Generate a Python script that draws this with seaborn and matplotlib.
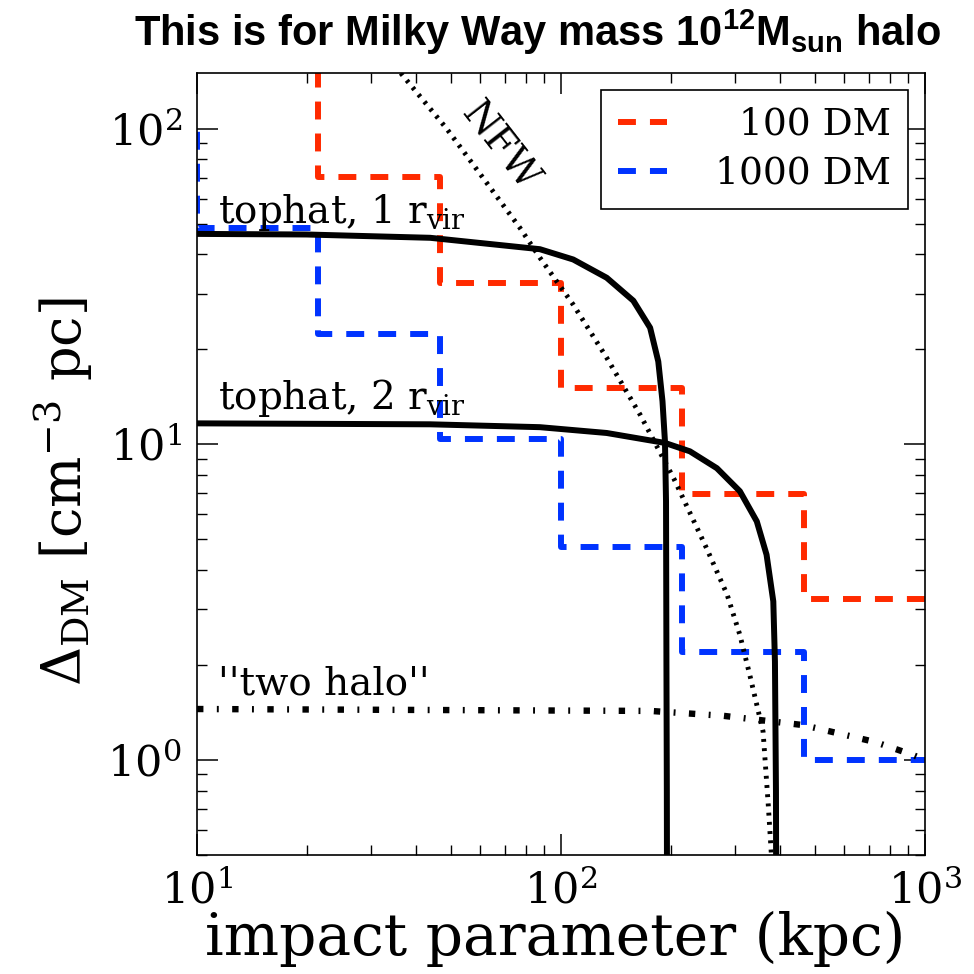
import matplotlib
matplotlib.use("Agg")
import matplotlib.pyplot as plt
import matplotlib.ticker as mticker
import seaborn as sns
import pandas as pd

# ---------------- data ----------------
step_edges = [4.64, 10, 21.5, 46.4, 100, 215, 464, 1000]
dm100_vals = [170, 170, 70.5, 32.4, 15.1, 6.95, 3.24, 3.24]
dm1000_vals = [103, 48.5, 22.3, 10.4, 4.74, 2.20, 1.0, 1.0]

tophat1_x = [10, 20, 43.7, 87.5, 108, 133.5, 158, 175.7, 185, 190, 193, 194.3, 194.8, 195.3, 195.5]
tophat1_y = [46.4, 46.2, 45.1, 41.5, 38.5, 33.7, 28.5, 23.4, 18.3, 13.7, 10.2, 6.6, 2.05, 0.8, 0.4]

tophat2_x = [10, 43.7, 87.5, 133.5, 193, 226, 268, 310, 345, 367, 383, 387, 389.5, 390]
tophat2_y = [11.65, 11.57, 11.33, 10.86, 10.1, 9.5, 8.4, 7.1, 5.7, 4.47, 3.18, 2.05, 0.8, 0.4]

nfw_x = [35, 36.8, 48.5, 77.1, 87.5, 108, 133.5, 165, 204, 251, 286, 310, 330, 359, 371, 378, 380]
nfw_y = [158, 147, 100, 48.5, 39.0, 27.7, 18.8, 12.4, 7.8, 4.69, 3.34, 2.49, 1.86, 1.23, 0.72, 0.51, 0.45]

twohalo_x = [10, 176, 279, 462, 729, 920, 1000]
twohalo_y = [1.45, 1.43, 1.38, 1.29, 1.14, 1.04, 1.0]

legend_labels = ["\u2007100 DM", "1000 DM"]
x_label = "impact parameter (kpc)"
y_label = r"$\Delta_{\rm DM}$ [cm$^{-3}$ pc]"
title = r"This is for Milky Way mass 10$^{12}$M$_{sun}$ halo"

RED = "#ff2a00"
BLUE = "#0033ff"

# ---------------- style ----------------
sns.set_style("ticks")
plt.rcParams["font.family"] = ["DejaVu Serif", "DejaVu Sans"]
plt.rcParams["mathtext.fontset"] = "dejavuserif"
plt.rcParams["mathtext.default"] = "regular"
for k in ["text.color", "axes.labelcolor", "xtick.color", "ytick.color", "axes.edgecolor"]:
    plt.rcParams[k] = "black"
plt.rcParams["axes.linewidth"] = 1.2
plt.rcParams["lines.dash_capstyle"] = "butt"

fig = plt.figure(figsize=(9.74, 9.74), dpi=100)
ax = fig.add_axes([0.2023, 0.1222, 0.7474, 0.8028])

steps = pd.DataFrame({"x": step_edges, "dm100": dm100_vals, "dm1000": dm1000_vals})

sns.lineplot(data=steps, x="x", y="dm100", ax=ax, color=RED, lw=4.3,
             drawstyle="steps-post", estimator=None, sort=False,
             label=legend_labels[0], legend=False)
ax.lines[-1].set_dashes((3.0, 2.35))
sns.lineplot(data=steps, x="x", y="dm1000", ax=ax, color=BLUE, lw=4.3,
             drawstyle="steps-post", estimator=None, sort=False,
             label=legend_labels[1], legend=False)
ax.lines[-1].set_dashes((3.0, 2.35))
h_red, h_blue = ax.lines[0], ax.lines[1]

sns.lineplot(x=tophat1_x, y=tophat1_y, ax=ax, color="black", lw=4.3,
             estimator=None, sort=False, legend=False)
sns.lineplot(x=tophat2_x, y=tophat2_y, ax=ax, color="black", lw=4.3,
             estimator=None, sort=False, legend=False)
sns.lineplot(x=nfw_x, y=nfw_y, ax=ax, color="black", lw=3.5,
             estimator=None, sort=False, legend=False)
ax.lines[-1].set_dashes((0.6, 1.3))
sns.lineplot(x=twohalo_x, y=twohalo_y, ax=ax, color="black", lw=4.6,
             estimator=None, sort=False, legend=False)
ax.lines[-1].set_dashes((1.0, 2.1, 0.3, 2.1))

ax.set_xscale("log")
ax.set_yscale("log")
ax.set_xlim(10, 1000)
ax.set_ylim(0.5, 150)

ax.tick_params(which="both", direction="in", top=True, right=True)
ax.tick_params(which="major", length=15, width=1.1, labelsize=31, pad=11)
ax.tick_params(which="minor", length=7.5, width=1.0)
ax.xaxis.set_minor_formatter(mticker.NullFormatter())
ax.yaxis.set_minor_formatter(mticker.NullFormatter())

ax.set_xlabel(x_label, fontsize=42)
ax.set_ylabel(y_label, fontsize=39)
ax.xaxis.set_label_coords(0.492, -0.072)
ax.yaxis.set_label_coords(-0.14, 0.464)

txt = dict(fontsize=28, color="black")
ax.text(11.4, 50.2, r"tophat, 1 r$_{\rm vir}$", va="baseline", ha="left", **txt)
ax.text(11.4, 12.9, r"tophat, 2 r$_{\rm vir}$", va="baseline", ha="left", **txt)
ax.text(11.4, 1.61, "''two halo''", va="baseline", ha="left", **txt)
ax.text(67.9, 88.4, "NFW", rotation=-52, rotation_mode="anchor",
        ha="center", va="center", **txt)

leg = ax.legend(handles=[h_red, h_blue], labels=legend_labels, loc="upper right",
                fontsize=27, frameon=True, fancybox=False, edgecolor="black",
                framealpha=1, handlelength=1.3, handletextpad=1.3,
                borderpad=0.45, labelspacing=0.35, borderaxespad=0.45)
leg.get_frame().set_linewidth(1.2)

fig.text(0.552, 0.967, title, ha="center", va="center", fontsize=30,
         fontweight="bold", family=["Liberation Sans", "DejaVu Sans"], color="black")

fig.savefig("out.png", dpi=100, facecolor="white")
